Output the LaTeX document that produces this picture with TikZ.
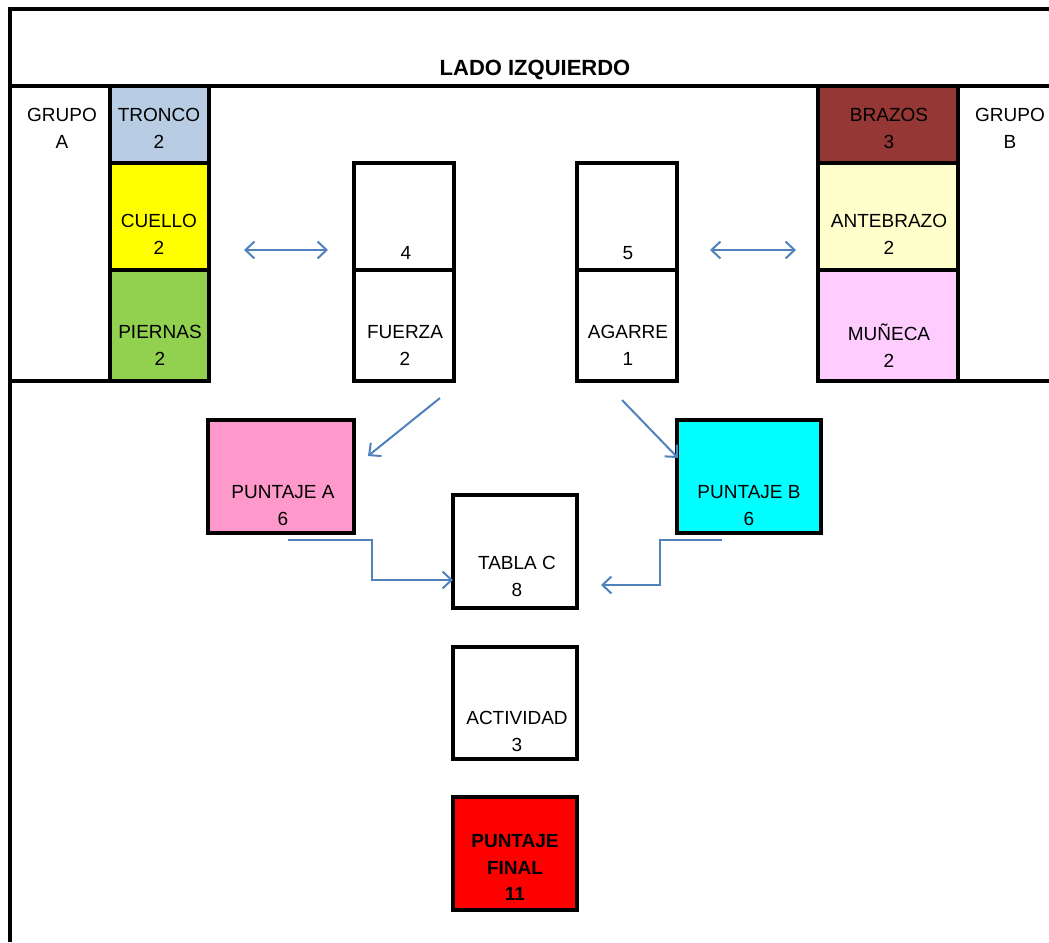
\documentclass[tikz,border=0pt]{standalone}
\usepackage{fontspec}
\setmainfont{Liberation Sans}
\usetikzlibrary{positioning,arrows.meta}
\definecolor{tronco}{HTML}{B8CCE4}
\definecolor{cuello}{HTML}{FFFF00}
\definecolor{piernas}{HTML}{92D050}
\definecolor{brazos}{HTML}{953735}
\definecolor{antebrazo}{HTML}{FFFFCC}
\definecolor{muneca}{HTML}{FFCCFF}
\definecolor{ptjA}{HTML}{FF99CC}
\definecolor{ptjB}{HTML}{00FFFF}
\definecolor{final}{HTML}{FF0000}
\definecolor{flecha}{HTML}{4F81BD}
\begin{document}
\begin{tikzpicture}[x=1pt,y=-1pt,>={Straight Barb[length=9pt,width=17pt]},
      box/.style={draw,line width=3.5pt,inner sep=0pt,outer sep=0pt,anchor=north west},
      lbl/.style={align=center,inner sep=0pt,font=\fontsize{19}{27}\selectfont},
      arr/.style={draw=flecha,line width=2pt},
      frame/.style={line width=3.5pt}]
 \useasboundingbox (0,0) rectangle (1049,942);
 \clip (0,0) rectangle (1049,942);

 % marco
 \draw[frame] (1049,9) -- (10,9) -- (10,942);
 \draw[frame] (10,86) -- (1049,86);
 \draw[frame] (10,381) -- (210,381);
 \draw[frame] (818,381) -- (1049,381);
 \node[font=\bfseries\fontsize{22}{24}\selectfont] (titulo) at (535,70) {LADO IZQUIERDO};

 % grupo A
 \node[box, fill=tronco, minimum width=99pt, minimum height=77pt] (tronco) at (110,86) {};
 \node[box, fill=cuello, minimum width=99pt, minimum height=107pt, below=0pt of tronco] (cuello) {};
 \node[box, fill=piernas, minimum width=99pt, minimum height=111pt, below=0pt of cuello] (piernas) {};

 % grupo B
 \node[box, fill=brazos, minimum width=140pt, minimum height=77pt] (brazos) at (818,86) {};
 \node[box, fill=antebrazo, minimum width=140pt, minimum height=107pt, below=0pt of brazos] (antebrazo) {};
 \node[box, fill=muneca, minimum width=140pt, minimum height=111pt, below=0pt of antebrazo] (muneca) {};

 % fuerza y agarre
 \node[box, minimum width=100pt, minimum height=107pt] (fuerza4) at (354,163) {};
 \node[box, minimum width=100pt, minimum height=111pt, below=0pt of fuerza4] (fuerza) {};
 \node[box, minimum width=100pt, minimum height=107pt] (agarre5) at (577,163) {};
 \node[box, minimum width=100pt, minimum height=111pt, below=0pt of agarre5] (agarre) {};

 % puntajes
 \node[box, fill=ptjA, minimum width=146pt, minimum height=113pt] (ptjA) at (208,420) {};
 \node[box, fill=ptjB, minimum width=144pt, minimum height=113pt] (ptjB) at (677,420) {};
 \node[box, minimum width=124pt, minimum height=113pt] (tablaC) at (453,495) {};
 \node[box, minimum width=124pt, minimum height=112pt, below=39pt of tablaC] (actividad) {};
 \node[box, fill=final, minimum width=124pt, minimum height=113pt, below=38pt of actividad] (final) {};

 % textos
 \node[lbl] (t-grupoA) at (62,128.5) {GRUPO\\A};
 \node[lbl] (t-tronco) at (159,128.5) {TRONCO\\2};
 \node[lbl] (t-cuello) at (159,234.5) {CUELLO\\2};
 \node[lbl] (t-piernas) at (160,345.5) {PIERNAS\\2};
 \node[lbl] (t-brazos) at (889,128.5) {BRAZOS\\3};
 \node[lbl] (t-antebrazo) at (889,234.5) {ANTEBRAZO\\2};
 \node[lbl] (t-muneca) at (889,345.5) {MUÑECA\\2};
 \node[lbl] (t-grupoB) at (1010,128.5) {GRUPO\\B};
 \node[lbl] (t-fuerza4) at (406,253) {4};
 \node[lbl] (t-fuerza) at (405,345.5) {FUERZA\\2};
 \node[lbl] (t-agarre5) at (628,253) {5};
 \node[lbl] (t-agarre) at (628,345.5) {AGARRE\\1};
 \node[lbl] (t-ptjA) at (283,505.5) {PUNTAJE A\\6};
 \node[lbl] (t-ptjB) at (749,505.5) {PUNTAJE B\\6};
 \node[lbl] (t-tablaC) at (517,576.5) {TABLA C\\8};
 \node[lbl] (t-actividad) at (517,731.5) {ACTIVIDAD\\3};
 \node[lbl, font=\bfseries\fontsize{19}{26.5}\selectfont] (t-final) at (515,867.5) {PUNTAJE\\FINAL\\11};

 % flechas
 \coordinate (cuA) at ([shift={(35,33.5)}]cuello.east);
 \coordinate (fzA) at ([shift={(-26,33.5)}]fuerza4.west);
 \coordinate (agA) at ([shift={(33,33.5)}]agarre5.east);
 \coordinate (abA) at ([shift={(-22,33.5)}]antebrazo.west);
 \coordinate (fzout) at ([shift={(36,17)}]fuerza.south);
 \coordinate (ptjAin) at ([shift={(14,36)}]ptjA.north east);
 \coordinate (agout) at ([shift={(-5,19)}]agarre.south);
 \coordinate (ptjBin) at ([shift={(1,38)}]ptjB.north west);
 \coordinate (ptjAout) at ([shift={(7,7)}]ptjA.south);
 \coordinate (tablaCinA) at ([shift={(0,-28)}]tablaC.south west);
 \coordinate (ptjBout) at ([shift={(-27,7)}]ptjB.south);
 \coordinate (tablaCinB) at ([shift={(24,-23)}]tablaC.south east);

 \draw[arr,<->] (cuA) -- (fzA);
 \draw[arr,<->] (agA) -- (abA);
 \draw[arr,->] (fzout) -- (ptjAin);
 \draw[arr,->] (agout) -- (ptjBin);
 \draw[arr,->] (ptjAout) -- ++(84,0) |- (tablaCinA);
 \draw[arr,->] (ptjBout) -- ++(-62,0) |- (tablaCinB);
\end{tikzpicture}
\end{document}
